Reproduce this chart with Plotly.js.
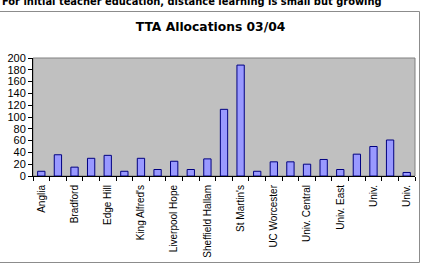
<!DOCTYPE html>
<html>
<head>
<meta charset="utf-8">
<script src="https://cdn.plot.ly/plotly-3.0.1.min.js"></script>
<style>html,body{margin:0;padding:0;background:#fff;overflow:hidden}#chart{width:424px;height:264px}</style>
</head>
<body>
<div id="chart"></div>
<script>
// Category labels shown on the axis (every other bar is labelled in the original)
const tickLabels = ["Anglia", "Bradford", "Edge Hill", "King Alfred's", "Liverpool Hope",
  "Sheffield Hallam", "St Martin's", "UC Worcester", "Univ. Central", "Univ. East", "Univ.", "Univ."];
// Allocation values per institution (23 bars)
const values = [8, 36, 15, 30, 35, 8, 30, 11, 25, 11, 29, 113, 188, 8, 24, 24, 20, 28, 11, 37, 50, 61, 6];
const yTicks = [0, 20, 40, 60, 80, 100, 120, 140, 160, 180, 200];

const idx = values.map((v, i) => i);
const labelPos = tickLabels.map((t, i) => i * 2);
const boundaries = values.map((v, i) => i - 0.5).concat([values.length - 0.5]);

// plot area in px: left 33, right 415, top 58, bottom 176
const L = 33, R = 415, T = 58, B = 176, W = 424, H = 264;
const px = x => (x - L) / (R - L);
const py = y => (B - y) / (B - T);

const trace = {
  type: 'bar', x: idx, y: values,
  marker: {color: '#9999FF', line: {color: '#000080', width: 1}},
  hoverinfo: 'skip'
};

const layout = {
  width: W, height: H,
  margin: {l: L, r: W - R, t: T, b: H - B, pad: 0},
  paper_bgcolor: '#ffffff', plot_bgcolor: '#C0C0C0',
  showlegend: false, bargap: 0.56,
  font: {family: 'Liberation Sans, Arial, sans-serif', size: 10, color: '#000'},
  title: {text: 'TTA Allocations 03/04', x: px(210.5), xref: 'paper', xanchor: 'center',
    y: 1 - 27 / H, yanchor: 'middle',
    font: {family: 'DejaVu Sans, sans-serif', size: 12.3, color: '#000', weight: 'bold'}},
  xaxis: {
    range: [-0.5, values.length - 0.5], tickmode: 'array', tickvals: labelPos, ticktext: tickLabels,
    tickangle: -90, ticks: 'outside', ticklen: 4, tickcolor: 'rgba(0,0,0,0)',
    showline: true, linecolor: '#000', linewidth: 1, showgrid: false, zeroline: false,
    tickfont: {family: 'Liberation Sans, Arial, sans-serif', size: 10, color: '#000'},
    minor: {tickmode: 'array', tickvals: boundaries, ticks: 'outside', ticklen: 4, tickcolor: '#000', tickwidth: 1, showgrid: false},
    fixedrange: true
  },
  yaxis: {
    range: [0, 200], tickmode: 'array', tickvals: yTicks, ticks: 'outside', ticklen: 4, tickcolor: '#000',
    showline: true, linecolor: '#000', linewidth: 1, showgrid: false, zeroline: false,
    tickfont: {family: 'Liberation Sans, Arial, sans-serif', size: 11, color: '#000'},
    fixedrange: true
  },
  shapes: [
    {type: 'rect', xref: 'paper', yref: 'paper', x0: px(-3), x1: px(419.5), y0: py(262.5), y1: py(11.5),
      line: {color: '#8c8c8c', width: 1}, fillcolor: 'rgba(0,0,0,0)', layer: 'below'},
    {type: 'rect', xref: 'paper', yref: 'paper', x0: 0, x1: 1, y0: 0, y1: 1,
      line: {color: '#808080', width: 1}, fillcolor: 'rgba(0,0,0,0)', layer: 'below'}
  ],
  annotations: [
    {text: '<b>For initial teacher education, distance learning is small but growing</b>',
      xref: 'paper', yref: 'paper', x: px(0), y: py(1.5), xanchor: 'left', yanchor: 'middle',
      showarrow: false, font: {family: 'DejaVu Sans Condensed, DejaVu Sans, sans-serif', size: 11, color: '#000'}}
  ]
};

Plotly.newPlot('chart', [trace], layout, {staticPlot: true, displayModeBar: false});
</script>
</body>
</html>
